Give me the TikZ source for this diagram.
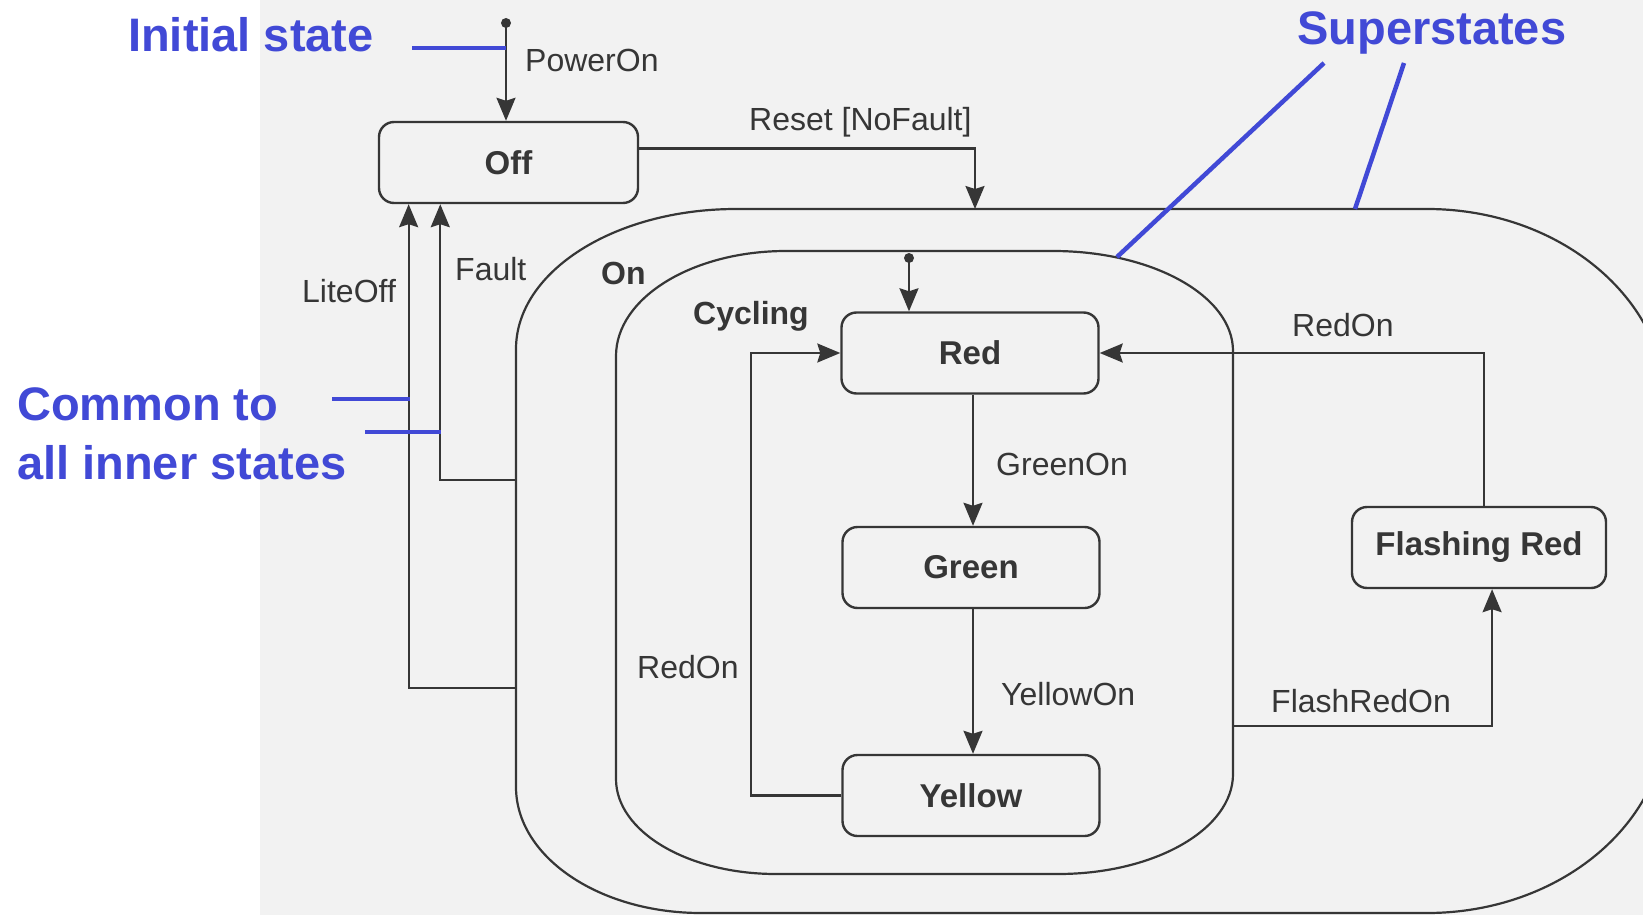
\documentclass[tikz,border=0pt]{standalone}
\usepackage{fontspec}
\setmainfont{Liberation Sans}
\usetikzlibrary{arrows.meta,calc}
\definecolor{ink}{HTML}{363636}
\definecolor{annot}{HTML}{4149D6}
\definecolor{paper}{HTML}{F2F2F2}
\begin{document}
\begin{tikzpicture}[x=1pt,y=-1pt,
  stbox/.style={draw=ink, line width=2.4pt, rounded corners=15pt, minimum width=257pt,
    minimum height=81pt, inner sep=0pt, font=\bfseries\fontsize{33}{36}\selectfont, text=ink},
  arr/.style={draw=ink, line width=2.2pt, -{Stealth[length=23pt,width=19pt,inset=3pt]}},
  superst/.style={draw=ink, line width=2.2pt},
  lab/.style={anchor=base west, inner sep=0pt, font=\fontsize{32}{36}\selectfont, text=ink},
  blab/.style={anchor=base west, inner sep=0pt, font=\fontsize{32}{36}\selectfont\bfseries, text=ink},
  note/.style={anchor=base west, inner sep=0pt, font=\bfseries\fontsize{47}{50}\selectfont, text=annot},
  noteline/.style={draw=annot, line width=4.5pt},
  dot/.style={circle, fill=ink, inner sep=0pt, minimum size=10pt}
]
\useasboundingbox (0,0) rectangle (1643,915);
\fill[white] (0,0) rectangle (1643,915);
\fill[paper] (260,0) rectangle (1643,915);
\clip (0,0) rectangle (1643,915);

% superstate On (outer)
\draw[superst] (516,349) .. controls (516,271.7) and (614.5,209) .. (736,209)
  -- (1427,209) .. controls (1559.6,209) and (1667,298.5) .. (1667,409)
  -- (1667,713) .. controls (1667,823.5) and (1559.6,913) .. (1427,913)
  -- (701,913) .. controls (598.8,913) and (516,856.6) .. (516,787) -- cycle;
% superstate Cycling (inner)
\draw[superst] (616,356) .. controls (616,298) and (692.1,251) .. (786,251)
  -- (1053,251) .. controls (1152.4,251) and (1233,295.8) .. (1233,351)
  -- (1233,774) .. controls (1233,829.2) and (1154.7,874) .. (1058,874)
  -- (776,874) .. controls (687.6,874) and (616,831.5) .. (616,779) -- cycle;

% states
\node[stbox, minimum width=259pt] (off) at (508.5,162.5) {Off};
\node[stbox] (red) at (970,353) {Red};
\node[stbox] (green) at (971,567.5) {Green};
\node[stbox] (yellow) at (971,795.5) {Yellow};
\node[stbox, minimum width=254pt] (flash) at (1479,547.5) {Flashing Red};

% initial pseudo-states
\node[dot] (init) at (506,23) {};
\node[dot] (cycinit) at (909,258) {};

% points on superstate borders
\coordinate (resetEnd) at (975,209);
\coordinate (faultStart) at (516,480);
\coordinate (liteStart) at (516,688);
\coordinate (cycEast) at (1233,726);

% transitions
\draw[arr] (init.center) -- (init.center |- off.north);
\draw[arr] ($(off.north east)!0.333!(off.south east)$) -| (resetEnd);
\draw[arr] (liteStart) -| ($(off.south west)!0.118!(off.south east)$);
\draw[arr] (faultStart) -| ($(off.south west)!0.239!(off.south east)$);
\draw[arr] (cycinit.center) -- (cycinit.center |- red.north);
\draw[arr] ([xshift=3pt]red.south) -- ([xshift=2pt]green.north);
\draw[arr] ([xshift=2pt]green.south) -- ([xshift=2pt]yellow.north);
\draw[arr] (yellow.west) -- ++(-90,0) |- (red.west);
\draw[arr] ($(flash.north west)!0.52!(flash.north east)$) |- (red.east);
\draw[arr] (cycEast) -| ($(flash.south west)!0.551!(flash.south east)$);

% labels
\node[lab] (lPowerOn) at (525,72) {PowerOn};
\node[lab] (lReset) at (749,131) {Reset [NoFault]};
\node[lab] (lFault) at (455,280) {Fault};
\node[lab] (lLiteOff) at (302,302) {LiteOff};
\node[blab] (lOn) at (601,284) {On};
\node[blab] (lCycling) at (693,324) {Cycling};
\node[lab] (lGreenOn) at (996,475) {GreenOn};
\node[lab] (lYellowOn) at (1001,705) {YellowOn};
\node[lab] (lRedOnL) at (637,678) {RedOn};
\node[lab] (lRedOnR) at (1292,336) {RedOn};
\node[lab] (lFlashRedOn) at (1271,712) {FlashRedOn};

% annotations
\node[note] (nInit) at (128,52) {Initial state};
\node[note] (nSuper) at (1297,45) {Superstates};
\node[note] (nCommon) at (17,420) {Common to};
\node[note] (nAll) at (17,479) {all inner states};
\coordinate (iA) at (412,48);
\coordinate (iB) at (506,48);
\coordinate (cA) at (332,399);
\coordinate (cB) at (409.5,399);
\coordinate (dA) at (365,432);
\coordinate (dB) at (441,432);
\coordinate (sA) at (1324,63);
\coordinate (sB) at (1117,257);
\coordinate (tA) at (1404,63);
\coordinate (tB) at (1355,209);
\draw[noteline] (iA) -- (iB);
\draw[noteline] (cA) -- (cB);
\draw[noteline] (dA) -- (dB);
\draw[noteline] (sA) -- (sB);
\draw[noteline] (tA) -- (tB);
\end{tikzpicture}
\end{document}
